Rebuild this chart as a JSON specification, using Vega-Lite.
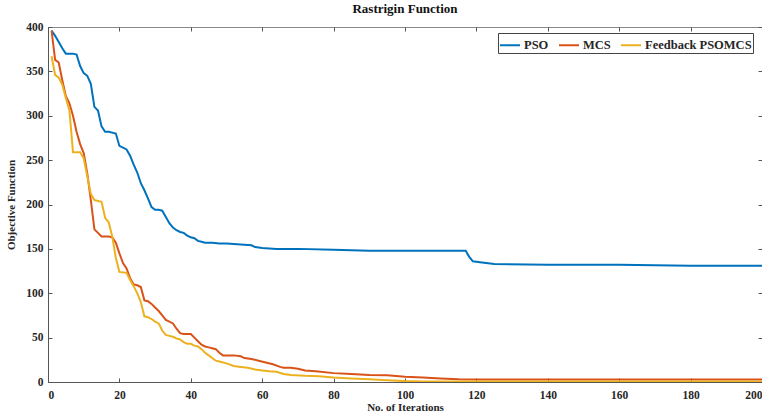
{
  "$schema": "https://vega.github.io/schema/vega-lite/v6.json",
  "width": 714,
  "height": 355,
  "autosize": {"type": "none"},
  "padding": {"left": 48, "top": 27, "right": 0, "bottom": 36},
  "background": "white",
  "title": {"text": "Rastrigin Function", "font": "Liberation Serif", "fontWeight": "bold", "fontSize": 13, "color": "#111", "offset": 5},
  "config": {
    "view": {"stroke": "#8a8a8a", "strokeWidth": 1},
    "axis": {"grid": false, "labelFont": "Liberation Serif", "labelFontWeight": "bold", "labelFontSize": 11, "labelColor": "#262626", "titleFont": "Liberation Serif", "titleFontWeight": "bold", "titleFontSize": 11, "titleColor": "#262626", "domainColor": "#555", "tickColor": "#555", "tickSize": -4}
  },
  "data": {"values": [
    {"it":1,"v":396,"s":"PSO"},{"it":2,"v":390,"s":"PSO"},{"it":3,"v":383,"s":"PSO"},{"it":4,"v":376,"s":"PSO"},{"it":5,"v":370,"s":"PSO"},{"it":6,"v":370,"s":"PSO"},{"it":7,"v":370,"s":"PSO"},{"it":8,"v":369,"s":"PSO"},{"it":9,"v":356,"s":"PSO"},{"it":10,"v":348,"s":"PSO"},{"it":11,"v":345,"s":"PSO"},{"it":12,"v":336,"s":"PSO"},{"it":13,"v":310,"s":"PSO"},{"it":14,"v":306,"s":"PSO"},{"it":15,"v":288,"s":"PSO"},{"it":16,"v":282,"s":"PSO"},{"it":17,"v":282,"s":"PSO"},{"it":18,"v":281,"s":"PSO"},{"it":19,"v":280,"s":"PSO"},{"it":20,"v":266,"s":"PSO"},{"it":21,"v":264,"s":"PSO"},{"it":22,"v":262,"s":"PSO"},{"it":23,"v":255,"s":"PSO"},{"it":24,"v":245,"s":"PSO"},{"it":25,"v":236,"s":"PSO"},{"it":26,"v":224,"s":"PSO"},{"it":27,"v":216,"s":"PSO"},{"it":28,"v":207,"s":"PSO"},{"it":29,"v":197,"s":"PSO"},{"it":30,"v":194,"s":"PSO"},{"it":31,"v":194,"s":"PSO"},{"it":32,"v":193,"s":"PSO"},{"it":33,"v":186,"s":"PSO"},{"it":34,"v":179,"s":"PSO"},{"it":35,"v":174,"s":"PSO"},{"it":36,"v":171,"s":"PSO"},{"it":37,"v":169,"s":"PSO"},{"it":38,"v":168,"s":"PSO"},{"it":39,"v":165,"s":"PSO"},{"it":40,"v":163,"s":"PSO"},{"it":41,"v":162,"s":"PSO"},{"it":42,"v":159,"s":"PSO"},{"it":43,"v":158,"s":"PSO"},{"it":44,"v":157,"s":"PSO"},{"it":46,"v":157,"s":"PSO"},{"it":48,"v":156,"s":"PSO"},{"it":50,"v":156,"s":"PSO"},{"it":54,"v":155,"s":"PSO"},{"it":57,"v":154,"s":"PSO"},{"it":58,"v":152,"s":"PSO"},{"it":60,"v":151,"s":"PSO"},{"it":64,"v":150,"s":"PSO"},{"it":70,"v":150,"s":"PSO"},{"it":80,"v":149,"s":"PSO"},{"it":90,"v":148,"s":"PSO"},{"it":100,"v":148,"s":"PSO"},{"it":117,"v":148,"s":"PSO"},{"it":118,"v":141,"s":"PSO"},{"it":119,"v":136,"s":"PSO"},{"it":121,"v":135,"s":"PSO"},{"it":125,"v":133,"s":"PSO"},{"it":140,"v":132,"s":"PSO"},{"it":160,"v":132,"s":"PSO"},{"it":180,"v":131,"s":"PSO"},{"it":200,"v":131,"s":"PSO"},
    {"it":1,"v":396,"s":"MCS"},{"it":2,"v":363,"s":"MCS"},{"it":3,"v":360,"s":"MCS"},{"it":4,"v":340,"s":"MCS"},{"it":5,"v":322,"s":"MCS"},{"it":6,"v":314,"s":"MCS"},{"it":7,"v":300,"s":"MCS"},{"it":8,"v":282,"s":"MCS"},{"it":9,"v":268,"s":"MCS"},{"it":10,"v":258,"s":"MCS"},{"it":11,"v":235,"s":"MCS"},{"it":12,"v":205,"s":"MCS"},{"it":13,"v":172,"s":"MCS"},{"it":14,"v":168,"s":"MCS"},{"it":15,"v":164,"s":"MCS"},{"it":16,"v":164,"s":"MCS"},{"it":17,"v":164,"s":"MCS"},{"it":18,"v":163,"s":"MCS"},{"it":19,"v":157,"s":"MCS"},{"it":20,"v":145,"s":"MCS"},{"it":21,"v":134,"s":"MCS"},{"it":22,"v":128,"s":"MCS"},{"it":23,"v":117,"s":"MCS"},{"it":24,"v":110,"s":"MCS"},{"it":25,"v":109,"s":"MCS"},{"it":26,"v":107,"s":"MCS"},{"it":27,"v":92,"s":"MCS"},{"it":28,"v":91,"s":"MCS"},{"it":29,"v":88,"s":"MCS"},{"it":30,"v":84,"s":"MCS"},{"it":31,"v":80,"s":"MCS"},{"it":32,"v":75,"s":"MCS"},{"it":33,"v":70,"s":"MCS"},{"it":34,"v":68,"s":"MCS"},{"it":35,"v":66,"s":"MCS"},{"it":36,"v":60,"s":"MCS"},{"it":37,"v":55,"s":"MCS"},{"it":38,"v":54,"s":"MCS"},{"it":40,"v":54,"s":"MCS"},{"it":41,"v":50,"s":"MCS"},{"it":42,"v":46,"s":"MCS"},{"it":43,"v":42,"s":"MCS"},{"it":44,"v":40,"s":"MCS"},{"it":45,"v":39,"s":"MCS"},{"it":46,"v":38,"s":"MCS"},{"it":47,"v":37,"s":"MCS"},{"it":48,"v":33,"s":"MCS"},{"it":49,"v":30,"s":"MCS"},{"it":52,"v":30,"s":"MCS"},{"it":54,"v":29,"s":"MCS"},{"it":55,"v":27,"s":"MCS"},{"it":57,"v":26,"s":"MCS"},{"it":59,"v":24,"s":"MCS"},{"it":61,"v":22,"s":"MCS"},{"it":63,"v":20,"s":"MCS"},{"it":65,"v":17,"s":"MCS"},{"it":66,"v":16,"s":"MCS"},{"it":68,"v":16,"s":"MCS"},{"it":70,"v":15,"s":"MCS"},{"it":72,"v":13,"s":"MCS"},{"it":75,"v":12,"s":"MCS"},{"it":80,"v":10,"s":"MCS"},{"it":85,"v":9,"s":"MCS"},{"it":90,"v":8,"s":"MCS"},{"it":95,"v":7.5,"s":"MCS"},{"it":100,"v":6,"s":"MCS"},{"it":105,"v":5,"s":"MCS"},{"it":110,"v":4,"s":"MCS"},{"it":115,"v":3,"s":"MCS"},{"it":120,"v":2.8,"s":"MCS"},{"it":200,"v":2.8,"s":"MCS"},
    {"it":1,"v":367,"s":"Feedback PSOMCS"},{"it":2,"v":346,"s":"Feedback PSOMCS"},{"it":3,"v":343,"s":"Feedback PSOMCS"},{"it":4,"v":335,"s":"Feedback PSOMCS"},{"it":5,"v":320,"s":"Feedback PSOMCS"},{"it":6,"v":306,"s":"Feedback PSOMCS"},{"it":7,"v":259,"s":"Feedback PSOMCS"},{"it":9,"v":259,"s":"Feedback PSOMCS"},{"it":10,"v":252,"s":"Feedback PSOMCS"},{"it":11,"v":232,"s":"Feedback PSOMCS"},{"it":12,"v":212,"s":"Feedback PSOMCS"},{"it":13,"v":205,"s":"Feedback PSOMCS"},{"it":14,"v":204,"s":"Feedback PSOMCS"},{"it":15,"v":203,"s":"Feedback PSOMCS"},{"it":16,"v":185,"s":"Feedback PSOMCS"},{"it":17,"v":180,"s":"Feedback PSOMCS"},{"it":18,"v":164,"s":"Feedback PSOMCS"},{"it":19,"v":140,"s":"Feedback PSOMCS"},{"it":20,"v":124,"s":"Feedback PSOMCS"},{"it":22,"v":123,"s":"Feedback PSOMCS"},{"it":23,"v":115,"s":"Feedback PSOMCS"},{"it":24,"v":108,"s":"Feedback PSOMCS"},{"it":25,"v":100,"s":"Feedback PSOMCS"},{"it":26,"v":90,"s":"Feedback PSOMCS"},{"it":27,"v":74,"s":"Feedback PSOMCS"},{"it":28,"v":73,"s":"Feedback PSOMCS"},{"it":29,"v":71,"s":"Feedback PSOMCS"},{"it":30,"v":68,"s":"Feedback PSOMCS"},{"it":31,"v":66,"s":"Feedback PSOMCS"},{"it":32,"v":58,"s":"Feedback PSOMCS"},{"it":33,"v":53,"s":"Feedback PSOMCS"},{"it":34,"v":52,"s":"Feedback PSOMCS"},{"it":35,"v":51,"s":"Feedback PSOMCS"},{"it":36,"v":49,"s":"Feedback PSOMCS"},{"it":37,"v":48,"s":"Feedback PSOMCS"},{"it":38,"v":45,"s":"Feedback PSOMCS"},{"it":39,"v":43,"s":"Feedback PSOMCS"},{"it":40,"v":43,"s":"Feedback PSOMCS"},{"it":41,"v":41,"s":"Feedback PSOMCS"},{"it":42,"v":40,"s":"Feedback PSOMCS"},{"it":43,"v":37,"s":"Feedback PSOMCS"},{"it":44,"v":33,"s":"Feedback PSOMCS"},{"it":45,"v":30,"s":"Feedback PSOMCS"},{"it":46,"v":27,"s":"Feedback PSOMCS"},{"it":47,"v":24,"s":"Feedback PSOMCS"},{"it":48,"v":23,"s":"Feedback PSOMCS"},{"it":50,"v":21,"s":"Feedback PSOMCS"},{"it":52,"v":18,"s":"Feedback PSOMCS"},{"it":54,"v":17,"s":"Feedback PSOMCS"},{"it":56,"v":16,"s":"Feedback PSOMCS"},{"it":58,"v":14,"s":"Feedback PSOMCS"},{"it":60,"v":13,"s":"Feedback PSOMCS"},{"it":62,"v":12,"s":"Feedback PSOMCS"},{"it":64,"v":11.5,"s":"Feedback PSOMCS"},{"it":66,"v":9,"s":"Feedback PSOMCS"},{"it":68,"v":8,"s":"Feedback PSOMCS"},{"it":72,"v":7,"s":"Feedback PSOMCS"},{"it":76,"v":6.5,"s":"Feedback PSOMCS"},{"it":80,"v":5,"s":"Feedback PSOMCS"},{"it":85,"v":4,"s":"Feedback PSOMCS"},{"it":90,"v":3,"s":"Feedback PSOMCS"},{"it":95,"v":2,"s":"Feedback PSOMCS"},{"it":100,"v":1,"s":"Feedback PSOMCS"},{"it":105,"v":0.5,"s":"Feedback PSOMCS"},{"it":200,"v":0.5,"s":"Feedback PSOMCS"}
  ]},
  "layer": [
    {
      "mark": {"type": "line", "strokeWidth": 2, "clip": true},
      "encoding": {
        "x": {"field": "it", "type": "quantitative", "scale": {"domain": [0, 200], "nice": false}, "axis": {"orient": "bottom", "title": "No. of Iterations", "values": [0,20,40,60,80,100,120,140,160,180,200], "labelFont": "Liberation Serif", "labelFontWeight": "bold", "labelFontSize": 11.5, "labelPadding": 11, "titlePadding": 1}},
        "y": {"field": "v", "type": "quantitative", "scale": {"domain": [0, 400], "nice": false}, "axis": {"orient": "left", "title": "Objective Function", "values": [0,50,100,150,200,250,300,350,400], "labelFont": "Liberation Serif", "labelFontWeight": "bold", "labelFontSize": 11.5, "labelPadding": 9, "titlePadding": 9}},
        "color": {"field": "s", "type": "nominal", "sort": ["PSO", "MCS", "Feedback PSOMCS"], "scale": {"domain": ["PSO", "MCS", "Feedback PSOMCS"], "range": ["#0072BD", "#D95319", "#EDB120"]},
          "legend": {"title": null, "orient": "none", "legendX": 450, "legendY": 6, "direction": "horizontal", "columns": 3, "symbolType": "stroke", "symbolSize": 400, "symbolStrokeWidth": 2, "labelFont": "Liberation Serif", "labelFontWeight": "bold", "labelFontSize": 12.5, "labelColor": "#262626", "columnPadding": 6, "labelOffset": 3, "strokeColor": "#444", "fillColor": "white", "padding": 1}}
      }
    },
    {
      "mark": {"type": "point", "opacity": 0},
      "encoding": {
        "x": {"field": "it", "type": "quantitative", "axis": {"orient": "top", "title": null, "labels": false, "domain": false, "values": [0,20,40,60,80,100,120,140,160,180,200]}},
        "y": {"field": "v", "type": "quantitative", "axis": {"orient": "right", "title": null, "labels": false, "domain": false, "values": [0,50,100,150,200,250,300,350,400]}}
      }
    }
  ],
  "resolve": {"axis": {"x": "independent", "y": "independent"}}
}
